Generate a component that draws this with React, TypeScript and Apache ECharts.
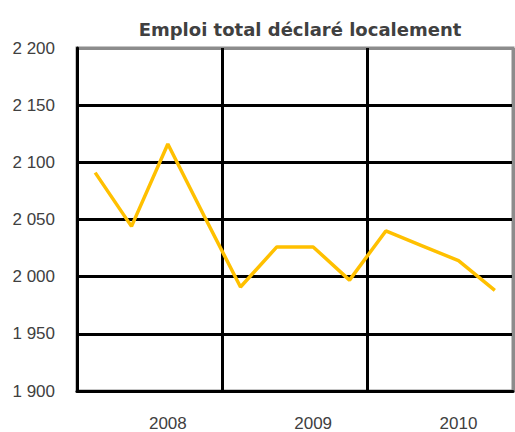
import React, { useEffect, useRef } from "react";
import * as echarts from "echarts";

const quarters = [
  "2008T1", "2008T2", "2008T3", "2008T4",
  "2009T1", "2009T2", "2009T3", "2009T4",
  "2010T1", "2010T2", "2010T3", "2010T4",
];
const years = ["2008", "2009", "2010"];
const emploi = [2091, 2044, 2116, 2053, 1991, 2026, 2026, 1997, 2040, 2027, 2014, 1988];
const yMin = 1900;
const yMax = 2200;
const yStep = 50;

const fmt = (v: number) => {
  const s = String(Math.round(v));
  return s.length > 3 ? s.slice(0, s.length - 3) + " " + s.slice(-3) : s;
};

export default function App() {
  const ref = useRef<HTMLDivElement>(null);
  useEffect(() => {
    document.body.style.margin = "0";
    if (!ref.current) return;
    const chart = echarts.init(ref.current, undefined, { renderer: "svg" });
    const font = "'Liberation Sans', Arial, sans-serif";
    chart.setOption({
      animation: false,
      backgroundColor: "#ffffff",
      title: {
        text: "Emploi total déclaré localement",
        left: 295,
        textAlign: "center",
        top: 15,
        textStyle: {
          fontFamily: "'DejaVu Sans', Verdana, sans-serif",
          fontWeight: "bold",
          fontSize: 18,
          color: "#404040",
        },
      },
      grid: {
        left: 77,
        right: 2,
        top: 48,
        bottom: 41,
        show: true,
        borderColor: "#8c8c8c",
        borderWidth: 3,
      },
      xAxis: {
        type: "category",
        data: quarters,
        boundaryGap: true,
        axisLine: { show: true, lineStyle: { color: "#000", width: 3 } },
        axisTick: { show: false },
        axisLabel: {
          interval: (i: number) => i % 4 === 2,
          formatter: (_v: string, i: number) => years[Math.floor(i / 4)],
          margin: 24,
          fontFamily: font,
          fontSize: 17,
          color: "#404040",
        },
        splitLine: {
          show: true,
          interval: (i: number) => i % 4 === 0,
          lineStyle: { color: ["#000", "#000", "#000", "#8c8c8c"], width: 3, type: "solid" },
        },
      },
      yAxis: {
        type: "value",
        min: yMin,
        max: yMax,
        interval: yStep,
        axisLine: { show: true, lineStyle: { color: "#000", width: 3 } },
        axisTick: { show: false },
        axisLabel: {
          formatter: fmt,
          margin: 22,
          fontFamily: font,
          fontSize: 17,
          color: "#404040",
        },
        splitLine: {
          show: true,
          lineStyle: {
            color: ["#000", "#000", "#000", "#000", "#000", "#000", "#8c8c8c"],
            width: 3,
            type: "solid",
          },
        },
      },
      series: [
        {
          type: "line",
          data: emploi,
          symbol: "none",
          lineStyle: { color: "#FFC000", width: 3.5 },
          z: 5,
        },
      ],
    });
    return () => chart.dispose();
  }, []);
  return <div ref={ref} style={{ width: 515, height: 432 }} />;
}
